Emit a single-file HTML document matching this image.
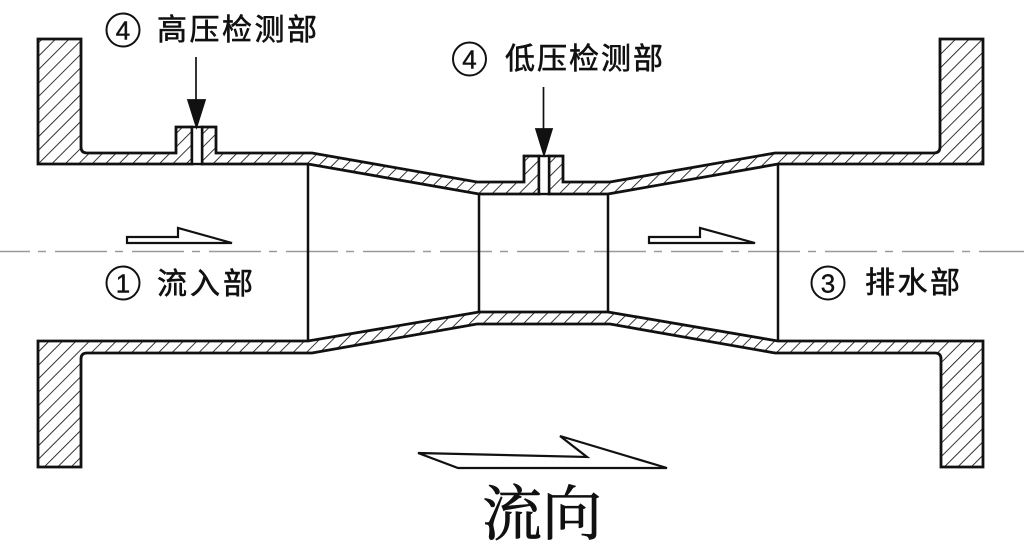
<!DOCTYPE html>
<html><head><meta charset="utf-8"><style>
html,body{margin:0;padding:0;background:#fff;}
svg{display:block;}
</style></head><body>
<svg width="1024" height="554" viewBox="0 0 1024 554" xmlns="http://www.w3.org/2000/svg">
<defs>
<pattern id="h" patternUnits="userSpaceOnUse" width="9.5" height="9.5" patternTransform="rotate(45)">
<line x1="0" y1="0" x2="0" y2="9.5" stroke="#111" stroke-width="1.7"/>
</pattern>
</defs>
<rect width="1024" height="554" fill="#fff"/>

<!-- center line -->
<line x1="0" y1="251.5" x2="1024" y2="251.5" stroke="#9a9a9a" stroke-width="1.6" stroke-dasharray="52 8 8 9" stroke-dashoffset="22"/>

<g stroke="#111" stroke-width="2.8" stroke-linejoin="miter" fill="url(#h)">
<path d="M38,39 L81,39 L81,147 Q81,153 87,153 L176,153 L176,127 L192,127 L192,164 L38,164 Z"/>
<path d="M202,127 L216,127 L216,153 L312,153 L477,182 L524,182 L524,156 L539,156 L539,194 L479,194 L308,164 L202,164 Z"/>
<path d="M549,156 L563,156 L563,182 L610,182 L775,153 L934,153 Q940,153 940,147 L940,39 L983,39 L983,164 L778,164 L608,194 L549,194 Z"/>
<path d="M38,341 L308,341 L479,312 L608,312 L778,341 L983,341 L983,467 L941,467 L941,359 Q941,353 935,353 L775,353 L610,324 L477,324 L312,353 L87,353 Q81,353 81,359 L81,467 L38,467 Z"/>
</g>
<g stroke="#111" stroke-width="2.4" fill="#fff">
<rect x="192" y="127" width="10" height="37"/>
<rect x="539" y="156" width="10" height="38"/>
</g>

<g stroke="#111" stroke-width="2.5" fill="none">
<line x1="308" y1="164" x2="308" y2="341"/>
<line x1="778" y1="164" x2="778" y2="341"/>
<line x1="479" y1="194" x2="479" y2="312"/>
<line x1="608" y1="194" x2="608" y2="312"/>
</g>

<g stroke="#111" stroke-width="1.7" fill="#111">
<line x1="196" y1="57" x2="196" y2="104"/>
<polygon points="188,100 205,100 196.5,127"/>
<line x1="543.5" y1="87" x2="543.5" y2="133"/>
<polygon points="536,129 552,129 544,155"/>
</g>

<g stroke="#111" stroke-width="2.2" fill="#fff" stroke-linejoin="miter">
<polygon points="127,237 178,237 178,228 232,243 127,243"/>
<polygon points="649,237 700,237 700,228 755,243 649,243"/>
<polygon points="418,453 587,457 560,436 667,468 458,468"/>
</g>

<g fill="none" stroke="#111" stroke-width="2">
<circle cx="123" cy="30" r="16.5"/>
<circle cx="469.5" cy="59" r="16.5"/>
<circle cx="123" cy="283" r="16.5"/>
<circle cx="828" cy="283" r="16.5"/>
</g>
<g font-family="'Liberation Sans', 'Noto Sans CJK SC', sans-serif" fill="#111" stroke="#111" stroke-width="0.4" font-size="26" text-anchor="middle">
<text x="123" y="39.5">4</text>
<text x="469.5" y="68.5">4</text>
<text x="123" y="292.5">1</text>
<text x="828" y="292.5">3</text>
</g>
<g font-family="'Liberation Sans', 'Noto Sans CJK SC', sans-serif" fill="#111" stroke="#111" stroke-width="0.6" font-size="30">
<text x="157" y="40" textLength="160" lengthAdjust="spacing">高压检测部</text>
<text x="505" y="69" textLength="158" lengthAdjust="spacing">低压检测部</text>
<text x="157" y="294" textLength="96" lengthAdjust="spacing">流入部</text>
<text x="865" y="293" textLength="95" lengthAdjust="spacing">排水部</text>
</g>
<text x="482" y="535" font-family="'Liberation Serif', 'Noto Serif CJK SC', serif" font-size="60" fill="#111" stroke="#111" stroke-width="0.8" textLength="120" lengthAdjust="spacing">流向</text>
</svg>
</body></html>
